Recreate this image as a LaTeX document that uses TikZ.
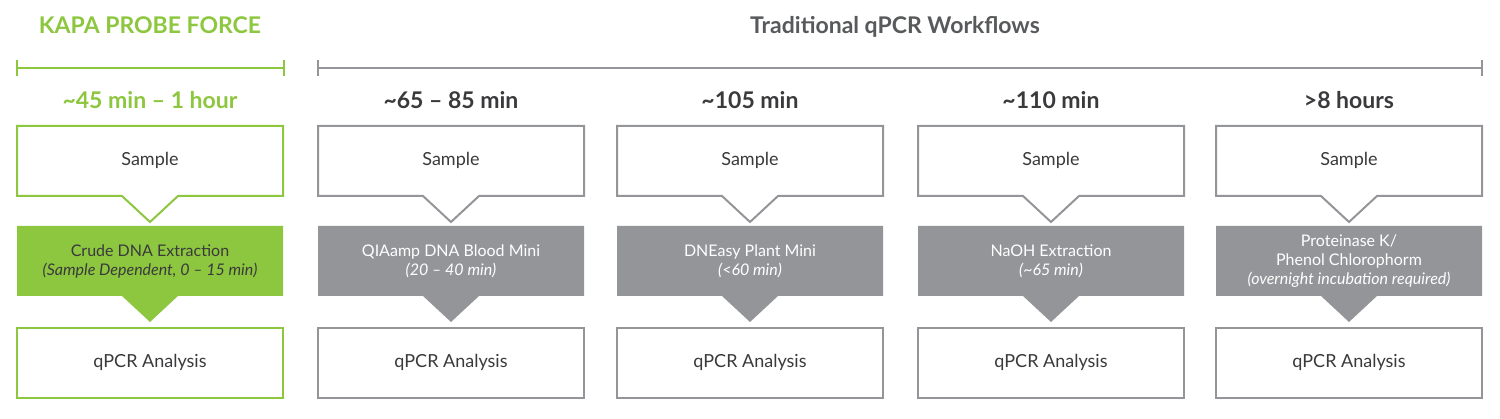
\documentclass[tikz,border=0pt]{standalone}
\usepackage{fontspec}
\setmainfont{Lato}
\definecolor{kgreen}{HTML}{8DC63F}
\definecolor{kgrey}{HTML}{939598}
\definecolor{kdark}{HTML}{3A3A3C}
\definecolor{ktitle}{HTML}{58595B}
\begin{document}
\begin{tikzpicture}[x=1pt,y=-1pt,
  samp/.style={line width=2pt,fill=white},
  lbl/.style={font=\fontsize{18}{20}\selectfont,text=kdark,align=center},
  ext/.style={font=\fontsize{16}{19}\selectfont,text=white,align=center},
  time/.style={font=\fontsize{23}{26}\selectfont\bfseries,text=kdark},
  ttl/.style={font=\fontsize{23}{26}\selectfont\bfseries}]
\useasboundingbox (0,0) rectangle (1500,419);
\node[ttl,text=kgreen] (t1) at (150,25) {KAPA PROBE FORCE};
\node[ttl,text=ktitle] (t2) at (895,27) {Traditional qPCR Workflows};
\draw[kgreen,line width=2pt] (17,60) -- (17,76) (17,68) -- (284,68) (284,60) -- (284,76);
\draw[kgrey,line width=2pt] (318,60) -- (318,76) (318,68) -- (1482,68) (1482,60) -- (1482,76);
\foreach \c/\col/\tm/\ex/\exc [count=\i] in {
  150/kgreen/{\textcolor{kgreen}{\textasciitilde45 min – 1 hour}}/{Crude DNA Extraction\\\textit{(Sample Dependent, 0 – 15 min)}}/kdark,
  451/kgrey/{\textasciitilde65 – 85 min}/{QIAamp DNA Blood Mini\\\textit{(20 – 40 min)}}/white,
  750/kgrey/{\textasciitilde105 min}/{DNEasy Plant Mini\\\textit{(<60 min)}}/white,
  1051/kgrey/{\textasciitilde110 min}/{NaOH Extraction\\\textit{(\textasciitilde65 min)}}/white,
  1349/kgrey/{>8 hours}/{Proteinase K/\\Phenol Chlorophorm\\\textit{(overnight incubation required)}}/white}{
  \node[time] (time\i) at (\c,100) {\tm};
  \draw[\col,samp] (\c-133,126) -- (\c+133,126) -- (\c+133,196) -- (\c+28,196) -- (\c,222) -- (\c-28,196) -- (\c-133,196) -- cycle;
  \node[lbl] (s\i) at (\c,160) {Sample};
  \fill[\col] (\c-133,226) -- (\c+133,226) -- (\c+133,296) -- (\c+28,296) -- (\c,322) -- (\c-28,296) -- (\c-133,296) -- cycle;
  \node[ext,text=\exc] (e\i) at (\c,261) {\ex};
  \draw[\col,line width=2pt,fill=white] (\c-133,328) rectangle (\c+133,398);
  \node[lbl] (q\i) at (\c,362) {qPCR Analysis};
}
\end{tikzpicture}
\end{document}
